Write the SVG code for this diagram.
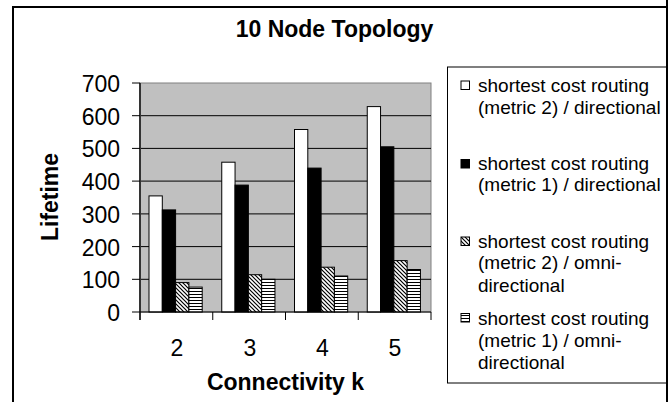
<svg xmlns="http://www.w3.org/2000/svg" width="671" height="402" viewBox="0 0 671 402">
<style>
text{font-family:"Liberation Sans",Arial,sans-serif;fill:#000}
.ttl{font-size:23px;font-weight:bold}
.ax{font-size:23px;font-weight:bold}
.tk{font-size:23px}
.lg{font-size:19px}
.grid{stroke:#000;stroke-width:1}
.bar{stroke:#000;stroke-width:1}
</style>
<defs>
<pattern id="diag" patternUnits="userSpaceOnUse" width="4" height="4">
<rect width="4" height="4" fill="#fff"/>
<path d="M-1,-1 L5,5 M-1,3 L1,5 M3,-1 L5,1" stroke="#000" stroke-width="1.2"/>
</pattern>
<pattern id="horiz" patternUnits="userSpaceOnUse" width="4" height="3">
<rect width="4" height="3" fill="#fff"/>
<rect y="0" width="4" height="1" fill="#000"/>
</pattern>
</defs>
<rect x="0" y="0" width="671" height="402" fill="#fff"/>
<rect id="frame" x="13" y="7" width="654" height="430" fill="#fff" stroke="#000" stroke-width="2"/>
<text class="ttl" x="334.5" y="37" text-anchor="middle">10 Node Topology</text>

<g id="plot">
<rect x="140" y="83" width="291" height="229" fill="#c0c0c0" stroke="#808080" stroke-width="1"/>
<g class="grid">
<line x1="140" y1="115.7" x2="431" y2="115.7"/>
<line x1="140" y1="148.4" x2="431" y2="148.4"/>
<line x1="140" y1="181.1" x2="431" y2="181.1"/>
<line x1="140" y1="213.9" x2="431" y2="213.9"/>
<line x1="140" y1="246.6" x2="431" y2="246.6"/>
<line x1="140" y1="279.3" x2="431" y2="279.3"/>
</g>
</g>

<g id="bars">
<rect class="bar" x="149" y="195.9" width="13.3" height="116.1" fill="#fff"/>
<rect class="bar" x="162.3" y="209.9" width="13.3" height="102.1" fill="#000"/>
<rect class="bar" x="175.6" y="282.6" width="13.3" height="29.4" fill="url(#diag)"/>
<rect class="bar" x="188.9" y="287.1" width="13.3" height="24.9" fill="url(#horiz)"/>

<rect class="bar" x="221.75" y="162.2" width="13.3" height="149.8" fill="#fff"/>
<rect class="bar" x="235.05" y="185.1" width="13.3" height="126.9" fill="#000"/>
<rect class="bar" x="248.35" y="274.7" width="13.3" height="37.3" fill="url(#diag)"/>
<rect class="bar" x="261.65" y="279.3" width="13.3" height="32.7" fill="url(#horiz)"/>

<rect class="bar" x="294.5" y="129.5" width="13.3" height="182.5" fill="#fff"/>
<rect class="bar" x="307.8" y="168.1" width="13.3" height="143.9" fill="#000"/>
<rect class="bar" x="321.1" y="267.2" width="13.3" height="44.8" fill="url(#diag)"/>
<rect class="bar" x="334.4" y="276" width="13.3" height="36" fill="url(#horiz)"/>

<rect class="bar" x="367.25" y="106.6" width="13.3" height="205.4" fill="#fff"/>
<rect class="bar" x="380.55" y="146.8" width="13.3" height="165.2" fill="#000"/>
<rect class="bar" x="393.85" y="260.6" width="13.3" height="51.4" fill="url(#diag)"/>
<rect class="bar" x="407.15" y="269.5" width="13.3" height="42.5" fill="url(#horiz)"/>
</g>

<g id="axes" stroke="#000" stroke-width="1">
<line x1="140" y1="83" x2="140" y2="320" stroke="#333" stroke-width="2"/>
<line x1="132" y1="312" x2="431" y2="312"/>
<line x1="132" y1="83" x2="140" y2="83"/>
<line x1="132" y1="115.7" x2="140" y2="115.7"/>
<line x1="132" y1="148.4" x2="140" y2="148.4"/>
<line x1="132" y1="181.1" x2="140" y2="181.1"/>
<line x1="132" y1="213.9" x2="140" y2="213.9"/>
<line x1="132" y1="246.6" x2="140" y2="246.6"/>
<line x1="132" y1="279.3" x2="140" y2="279.3"/>
<line x1="212.75" y1="312" x2="212.75" y2="320"/>
<line x1="285.5" y1="312" x2="285.5" y2="320"/>
<line x1="358.25" y1="312" x2="358.25" y2="320"/>
<line x1="431" y1="312" x2="431" y2="320"/>
</g>

<g id="ylabels" text-anchor="end">
<text class="tk" x="120" y="92">700</text>
<text class="tk" x="120" y="124.7">600</text>
<text class="tk" x="120" y="157.4">500</text>
<text class="tk" x="120" y="190.1">400</text>
<text class="tk" x="120" y="222.9">300</text>
<text class="tk" x="120" y="255.6">200</text>
<text class="tk" x="120" y="288.3">100</text>
<text class="tk" x="120" y="321">0</text>
</g>
<g id="xlabels" text-anchor="middle">
<text class="tk" x="177" y="356">2</text>
<text class="tk" x="250" y="356">3</text>
<text class="tk" x="322.5" y="356">4</text>
<text class="tk" x="395" y="356">5</text>
</g>
<text class="ax" x="285.5" y="390" text-anchor="middle">Connectivity k</text>
<text class="ax" transform="translate(58,197) rotate(-90)" text-anchor="middle">Lifetime</text>

<g id="legend">
<rect x="447.5" y="67" width="219.5" height="316" fill="#fff" stroke="#000" stroke-width="1"/>
<g id="leg1">
<rect class="bar" x="461" y="81" width="8.5" height="8.5" fill="#fff"/>
<text class="lg" x="478" y="92">shortest cost routing</text>
<text class="lg" x="478" y="113.5">(metric 2) / directional</text>
</g>
<g id="leg2">
<rect class="bar" x="461" y="159.5" width="8.5" height="8.5" fill="#000"/>
<text class="lg" x="478" y="170">shortest cost routing</text>
<text class="lg" x="478" y="191">(metric 1) / directional</text>
</g>
<g id="leg3">
<rect class="bar" x="461" y="237" width="8.5" height="8.5" fill="url(#diag)"/>
<text class="lg" x="478" y="247.5">shortest cost routing</text>
<text class="lg" x="478" y="269">(metric 2) / omni-</text>
<text class="lg" x="478" y="291.5">directional</text>
</g>
<g id="leg4">
<rect class="bar" x="461" y="313.5" width="8.5" height="8.5" fill="url(#horiz)"/>
<text class="lg" x="478" y="324.5">shortest cost routing</text>
<text class="lg" x="478" y="346.5">(metric 1) / omni-</text>
<text class="lg" x="478" y="369">directional</text>
</g>
</g>
<line x1="667" y1="0" x2="667" y2="402" stroke="#000" stroke-width="2"/>
<line x1="13" y1="7" x2="667" y2="7" stroke="#000" stroke-width="2"/>
</svg>
